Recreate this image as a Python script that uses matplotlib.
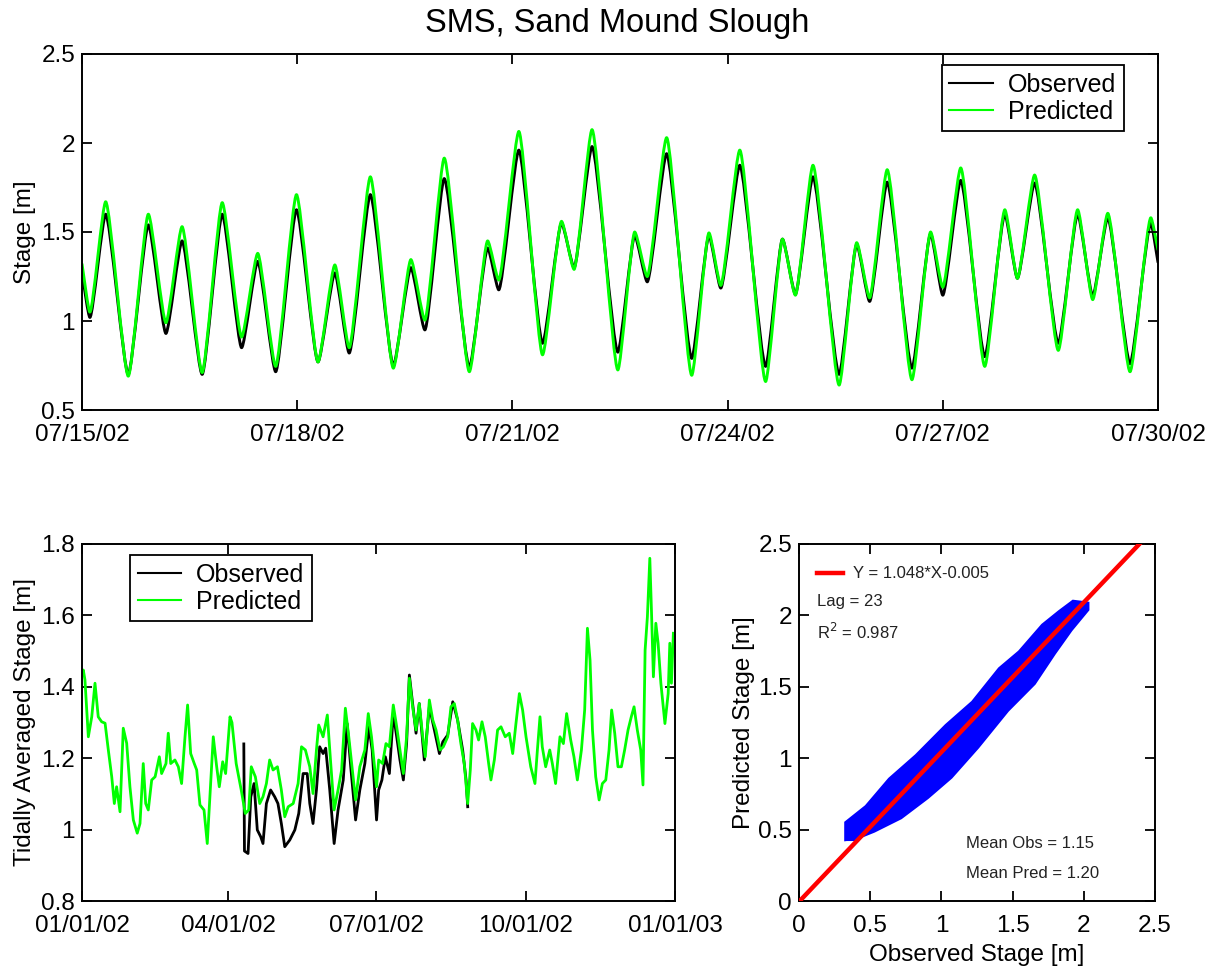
import datetime as dt

import matplotlib
matplotlib.use("Agg")
import matplotlib.pyplot as plt
import matplotlib.dates as mdates
import numpy as np
from matplotlib.lines import Line2D
from matplotlib.patches import PathPatch
from matplotlib.path import Path
from matplotlib.ticker import FuncFormatter

plt.rcParams["font.family"] = ["Liberation Sans", "DejaVu Sans"]

# ---------------------------------------------------------------------------
# Hourly stage, 07/15/02 - 07/30/02: successive highs and lows (days after 07/15)
tide_days = [0.00, 0.11, 0.33, 0.645, 0.925, 1.17, 1.395, 1.675, 1.955, 2.225,
             2.45, 2.70, 2.99, 3.29, 3.525, 3.725, 4.02, 4.34, 4.585, 4.78,
             5.05, 5.40, 5.655, 5.81, 6.09, 6.42, 6.685, 6.86, 7.11, 7.47,
             7.705, 7.88, 8.15, 8.50, 8.74, 8.905, 9.17, 9.53, 9.765, 9.945,
             10.19, 10.555, 10.80, 10.98, 11.225, 11.57, 11.83, 12.00, 12.25, 12.585,
             12.865, 13.04, 13.28, 13.61, 13.88, 14.09, 14.30, 14.61, 14.90, 15.00]
tide_obs = [1.27, 1.02, 1.60, 0.70, 1.54, 0.93, 1.45, 0.70, 1.60, 0.85,
            1.335, 0.715, 1.625, 0.77, 1.27, 0.82, 1.71, 0.75, 1.30, 0.95,
            1.80, 0.74, 1.41, 1.175, 1.96, 0.875, 1.55, 1.30, 1.98, 0.825,
            1.48, 1.22, 1.94, 0.79, 1.48, 1.185, 1.875, 0.745, 1.46, 1.15,
            1.81, 0.70, 1.43, 1.11, 1.78, 0.735, 1.49, 1.145, 1.79, 0.80,
            1.60, 1.24, 1.775, 0.875, 1.60, 1.14, 1.58, 0.76, 1.55, 1.33]
tide_pred = [1.32, 1.05, 1.67, 0.69, 1.60, 0.99, 1.53, 0.71, 1.665, 0.91,
             1.38, 0.745, 1.71, 0.77, 1.315, 0.85, 1.81, 0.735, 1.345, 1.005,
             1.915, 0.715, 1.45, 1.23, 2.065, 0.81, 1.56, 1.29, 2.075, 0.725,
             1.50, 1.25, 2.03, 0.695, 1.495, 1.20, 1.96, 0.66, 1.46, 1.145,
             1.875, 0.64, 1.44, 1.13, 1.85, 0.67, 1.50, 1.19, 1.86, 0.745,
             1.625, 1.24, 1.82, 0.835, 1.625, 1.12, 1.605, 0.715, 1.58, 1.40]

# ---------------------------------------------------------------------------
# Tidally averaged stage during 2002 (days after 01/01/02)
avg_pred_days = [0.0, 0.8, 1.8, 3.9, 6.0, 8.0, 10.0, 12.1, 14.2, 16.2,
                 18.3, 19.9, 21.3, 23.4, 25.4, 27.5, 29.5, 31.6, 34.0, 35.7,
                 37.7, 39.2, 40.8, 42.9, 45.0, 47.6, 49.0, 51.7, 53.1, 54.6,
                 57.2, 59.3, 61.3, 63.4, 65.0, 66.9, 69.1, 70.6, 72.6, 75.1,
                 77.1, 79.2, 80.8, 82.9, 84.5, 86.6, 88.4, 91.1, 92.3, 94.9,
                 98.0, 100.5, 102.6, 104.2, 106.7, 109.4, 111.4, 113.5, 115.5, 117.6,
                 120.3, 122.7, 124.8, 126.9, 130.0, 133.0, 135.1, 137.5, 140.2, 142.2,
                 144.3, 145.7, 148.4, 151.0, 153.1, 155.2, 157.6, 159.8, 162.1, 164.2,
                 166.2, 168.4, 171.0, 174.1, 176.2, 178.2, 181.3, 182.6, 185.0, 187.1,
                 189.2, 191.6, 193.7, 195.7, 197.8, 199.8, 201.5, 203.5, 205.6, 207.6,
                 209.7, 211.3, 213.8, 215.9, 217.9, 220.4, 222.4, 225.1, 227.1, 229.2,
                 231.2, 233.2, 235.3, 237.4, 239.0, 240.4, 242.5, 244.1, 246.2, 248.2,
                 250.3, 251.7, 253.8, 255.8, 257.9, 260.5, 263.0, 265.1, 267.1, 269.2,
                 271.2, 273.3, 276.2, 278.8, 280.3, 281.9, 283.3, 285.4, 287.9, 289.5,
                 291.5, 294.2, 296.3, 298.3, 300.8, 302.8, 304.9, 307.4, 309.4, 311.1,
                 312.7, 314.2, 316.2, 318.3, 320.3, 322.4, 324.4, 326.0, 327.9, 329.9,
                 332.0, 334.0, 336.1, 338.1, 339.8, 341.8, 343.9, 345.3, 346.6, 348.0,
                 349.5, 350.5, 351.7, 353.2, 354.6, 356.3, 358.8, 360.8, 361.8, 362.8,
                 364.0]
avg_pred = [1.44, 1.447, 1.42, 1.26, 1.316, 1.41, 1.316, 1.302, 1.298, 1.223,
            1.148, 1.073, 1.12, 1.05, 1.284, 1.242, 1.12, 1.027, 0.99, 1.017,
            1.185, 1.073, 1.055, 1.139, 1.148, 1.204, 1.157, 1.185, 1.27, 1.185,
            1.195, 1.176, 1.129, 1.26, 1.349, 1.213, 1.185, 1.167, 1.069, 1.055,
            0.961, 1.129, 1.26, 1.176, 1.12, 1.19, 1.157, 1.316, 1.30, 1.185,
            1.111, 1.045, 1.055, 1.176, 1.148, 1.073, 1.092, 1.129, 1.195, 1.167,
            1.176, 1.111, 1.036, 1.064, 1.073, 1.129, 1.232, 1.223, 1.176, 1.101,
            1.223, 1.293, 1.26, 1.321, 1.185, 1.055, 1.111, 1.167, 1.34, 1.26,
            1.176, 1.083, 1.176, 1.223, 1.325, 1.26, 1.12, 1.195, 1.185, 1.241,
            1.232, 1.349, 1.288, 1.223, 1.157, 1.26, 1.424, 1.344, 1.279, 1.353,
            1.26, 1.204, 1.363, 1.307, 1.279, 1.223, 1.232, 1.26, 1.344, 1.353,
            1.307, 1.241, 1.185, 1.073, 1.167, 1.297, 1.279, 1.251, 1.302, 1.26,
            1.185, 1.139, 1.195, 1.279, 1.288, 1.26, 1.27, 1.213, 1.297, 1.381,
            1.335, 1.26, 1.176, 1.129, 1.223, 1.316, 1.232, 1.176, 1.223, 1.185,
            1.129, 1.26, 1.241, 1.325, 1.251, 1.204, 1.139, 1.223, 1.335, 1.564,
            1.475, 1.279, 1.148, 1.083, 1.129, 1.139, 1.223, 1.335, 1.27, 1.176,
            1.176, 1.223, 1.279, 1.316, 1.344, 1.279, 1.223, 1.125, 1.503, 1.596,
            1.76, 1.615, 1.428, 1.578, 1.522, 1.41, 1.297, 1.381, 1.522, 1.41,
            1.55]

avg_obs_days = [99.6, 100.0, 102.2, 103.9, 105.9, 107.9, 110.0, 111.4, 113.5, 116.1,
                118.6, 120.6, 122.7, 124.8, 127.9, 131.0, 133.4, 136.1, 138.6, 140.2,
                142.2, 144.3, 146.3, 148.4, 150.0, 152.5, 155.2, 157.6, 160.8, 163.2,
                165.4, 168.4, 171.0, 174.1, 176.6, 178.6, 181.3, 182.6, 184.6, 186.7,
                189.2, 191.6, 193.7, 195.7, 197.8, 199.8, 201.5, 203.5, 205.6, 207.6,
                210.7, 213.8, 216.9, 220.0, 222.1, 225.1, 228.2, 231.2, 234.3, 236.4,
                237.4]
avg_obs = [1.24, 0.94, 0.933, 1.092, 1.129, 0.999, 0.98, 0.961, 1.073, 1.111,
           1.092, 1.073, 1.017, 0.952, 0.971, 0.999, 1.045, 1.157, 1.157, 1.073,
           1.017, 1.111, 1.232, 1.213, 1.228, 1.111, 0.961, 1.055, 1.139, 1.297,
           1.176, 1.027, 1.111, 1.185, 1.288, 1.223, 1.027, 1.111, 1.139, 1.204,
           1.157, 1.325, 1.26, 1.195, 1.139, 1.241, 1.433, 1.353, 1.27, 1.353,
           1.195, 1.344, 1.279, 1.213, 1.246, 1.265, 1.358, 1.307, 1.223, 1.139,
           1.064]

# ---------------------------------------------------------------------------
# Observed vs predicted stage: outline of the point cloud, and the fit
cloud_upper_x = [0.337, 0.477, 0.641, 0.828, 1.038, 1.225, 1.413, 1.553, 1.716, 1.833, 1.927, 2.02]
cloud_upper_y = [0.545, 0.656, 0.848, 1.012, 1.223, 1.387, 1.621, 1.739, 1.926, 2.02, 2.09, 2.078]
cloud_lower_x = [0.337, 0.407, 0.524, 0.711, 0.898, 1.062, 1.249, 1.459, 1.646, 1.787, 1.904, 2.02]
cloud_lower_y = [0.44, 0.45, 0.497, 0.59, 0.731, 0.872, 1.082, 1.34, 1.528, 1.739, 1.903, 2.043]
cloud_end_x = [0.372, 1.962]
cloud_end_y = [0.469, 2.055]
fit_slope = 1.048
fit_intercept = -0.005
fit_lag = 23
fit_r2 = 0.987
mean_obs = 1.15
mean_pred = 1.20

OBS_COLOR = "black"
PRED_COLOR = "#00ff00"
FS = 17.5


def smooth_tide_path(x, y, k=0.2):
    """Cubic Bezier path through turning points, flat at each high and low."""
    verts = [(x[0], y[0])]
    codes = [Path.MOVETO]
    n = len(x)
    for i in range(n - 1):
        dx = x[i + 1] - x[i]
        dy = y[i + 1] - y[i]
        c1 = (x[i] + k * dx, y[i] + (k * dy if i == 0 else 0.0))
        c2 = (x[i + 1] - k * dx, y[i + 1] - (k * dy if i + 1 == n - 1 else 0.0))
        verts += [c1, c2, (x[i + 1], y[i + 1])]
        codes += [Path.CURVE4] * 3
    return Path(verts, codes)


def g_fmt(v, _pos):
    return f"{v:g}"


def style_axes(ax):
    for sp in ax.spines.values():
        sp.set_linewidth(1.4)
    ax.tick_params(direction="in", top=True, right=True, length=7, width=1.3,
                   labelsize=FS)
    ax.tick_params(axis="x", pad=10)
    ax.tick_params(axis="y", pad=5)


def stage_legend(ax, anchor, loc):
    handles = [Line2D([], [], color=OBS_COLOR, lw=1.5), Line2D([], [], color=PRED_COLOR, lw=1.5)]
    leg = ax.legend(handles, ["Observed", "Predicted"], loc=loc, bbox_to_anchor=anchor,
                    borderaxespad=0, fontsize=18, fancybox=False, framealpha=1,
                    edgecolor="black", handlelength=1.75, handletextpad=0.6,
                    labelspacing=0.12, borderpad=0.3)
    leg.get_frame().set_linewidth(1.3)
    return leg


fig = plt.figure(figsize=(12.2, 9.72), dpi=100)
W, H = 1220.0, 972.0
ax_top = fig.add_axes([82 / W, 1 - 410 / H, 1076 / W, 356 / H])
ax_avg = fig.add_axes([82 / W, 1 - 901 / H, 593 / W, 357 / H])
ax_sc = fig.add_axes([799 / W, 1 - 901 / H, 356 / W, 357 / H])

fig.text(0.506, 0.976, "SMS, Sand Mound Slough", ha="center", va="center", fontsize=23.5)

# --- instantaneous stage ----------------------------------------------------
t0 = mdates.date2num(dt.datetime(2002, 7, 15))
tx = t0 + np.asarray(tide_days)
ax_top.xaxis_date()
for vals, col in ((tide_obs, OBS_COLOR), (tide_pred, PRED_COLOR)):
    ax_top.add_patch(PathPatch(smooth_tide_path(tx, np.asarray(vals)), fill=False,
                               edgecolor=col, lw=2.1, capstyle="round", joinstyle="round"))
ax_top.set_xlim(t0, t0 + 15)
ax_top.set_ylim(0.5, 2.5)
ax_top.set_xticks([t0 + d for d in range(0, 16, 3)])
ax_top.xaxis.set_major_formatter(mdates.DateFormatter("%m/%d/%y"))
ax_top.set_yticks([0.5, 1.0, 1.5, 2.0, 2.5])
ax_top.yaxis.set_major_formatter(FuncFormatter(g_fmt))
ax_top.set_ylabel("Stage [m]", fontsize=FS, labelpad=4)
style_axes(ax_top)
stage_legend(ax_top, (0.9684, 0.969), "upper right")

# --- tidally averaged stage -------------------------------------------------
a0 = mdates.date2num(dt.datetime(2002, 1, 1))
ax_avg.xaxis_date()
ax_avg.plot(a0 + np.asarray(avg_obs_days), avg_obs, color=OBS_COLOR, lw=2.0)
ax_avg.plot(a0 + np.asarray(avg_pred_days), avg_pred, color=PRED_COLOR, lw=2.0)
tick_dates = [dt.datetime(2002, 1, 1), dt.datetime(2002, 4, 1), dt.datetime(2002, 7, 1),
              dt.datetime(2002, 10, 1), dt.datetime(2003, 1, 1)]
ax_avg.set_xticks(mdates.date2num(tick_dates))
ax_avg.xaxis.set_major_formatter(mdates.DateFormatter("%m/%d/%y"))
ax_avg.set_xlim(a0, mdates.date2num(dt.datetime(2003, 1, 1)))
ax_avg.set_ylim(0.8, 1.8)
ax_avg.set_yticks([0.8, 1.0, 1.2, 1.4, 1.6, 1.8])
ax_avg.yaxis.set_major_formatter(FuncFormatter(g_fmt))
ax_avg.set_ylabel("Tidally Averaged Stage [m]", fontsize=FS, labelpad=4)
style_axes(ax_avg)
stage_legend(ax_avg, (0.081, 0.969), "upper left")

# --- observed vs predicted --------------------------------------------------
cloud_x = np.concatenate([cloud_upper_x, cloud_lower_x[::-1]])
cloud_y = np.concatenate([cloud_upper_y, cloud_lower_y[::-1]])
ax_sc.fill(cloud_x, cloud_y, facecolor="#0000ff", edgecolor="#0000ff", lw=4,
           joinstyle="miter", zorder=2)
ax_sc.plot(cloud_end_x, cloud_end_y, "s", mfc="none", mec="#0000ff", ms=9, mew=1.5, zorder=2)
fit_x = np.array([0.0, 2.5])
ax_sc.plot(fit_x, fit_slope * fit_x + fit_intercept, color="red", lw=3.2, zorder=3,
           label=f"Y = {fit_slope:.3f}*X{fit_intercept:.3f}")
ax_sc.set_xlim(0, 2.5)
ax_sc.set_ylim(0, 2.5)
ticks = [0, 0.5, 1.0, 1.5, 2.0, 2.5]
ax_sc.set_xticks(ticks)
ax_sc.set_yticks(ticks)
ax_sc.xaxis.set_major_formatter(FuncFormatter(g_fmt))
ax_sc.yaxis.set_major_formatter(FuncFormatter(g_fmt))
ax_sc.set_xlabel("Observed Stage [m]", fontsize=FS, labelpad=5)
ax_sc.set_ylabel("Predicted Stage [m]", fontsize=FS, labelpad=2)
style_axes(ax_sc)
ax_sc.legend(loc="upper left", bbox_to_anchor=(0.05, 0.937), frameon=False, fontsize=12,
             handlelength=1.6, handletextpad=0.6, borderaxespad=0, borderpad=0,
             labelcolor="#222222")
small = dict(fontsize=12, color="#222222", transform=ax_sc.transAxes, va="center")
ax_sc.text(0.05, 0.838, f"Lag = {fit_lag}", **small)
ax_sc.text(0.05, 0.754, f"R$^2$ = {fit_r2:.3f}", **small)
ax_sc.text(0.469, 0.160, f"Mean Obs = {mean_obs:.2f}", **small)
ax_sc.text(0.469, 0.078, f"Mean Pred = {mean_pred:.2f}", **small)

fig.savefig("out.png", dpi=100, facecolor="white")
